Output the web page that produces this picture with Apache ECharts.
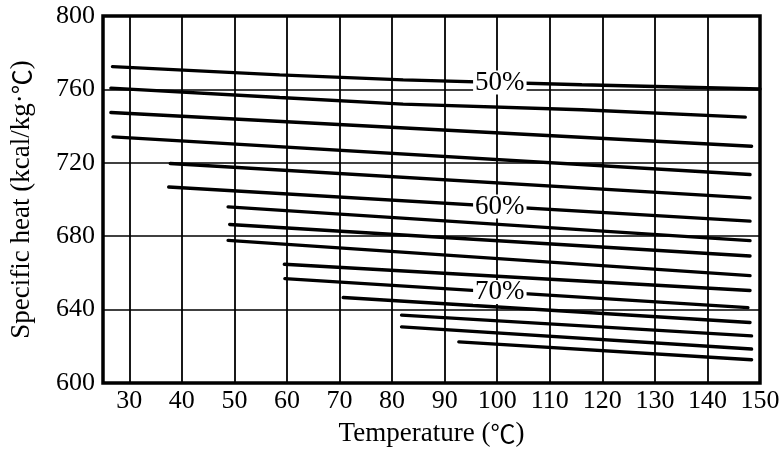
<!DOCTYPE html>
<html>
<head>
<meta charset="utf-8">
<script src="https://cdn.jsdelivr.net/npm/echarts@6/dist/echarts.min.js"></script>
<style>html,body{margin:0;padding:0;background:#fff}#c{width:783px;height:452px}</style>
</head>
<body>
<div id="c"></div>
<script>
// Tick labels
const xTicks = [30, 40, 50, 60, 70, 80, 90, 100, 110, 120, 130, 140, 150];
const yTicks = [600, 640, 680, 720, 760, 800];

// Curves (x = temperature, y = specific heat)
const c50 = [[26.8, 772.4], [58.6, 767.9], [82.1, 765.2], [116.1, 762.5], [150, 760.2]];
const c52 = [[26.5, 760.7], [58.6, 755.6], [82.1, 752.0], [116.1, 748.9], [147.2, 744.9]];
const c54 = [[26.5, 747.4], [148.4, 729.0]];
const c56 = [[26.9, 734.1], [148.1, 713.6]];
const c58 = [[37.8, 719.6], [148.1, 700.9]];
const c60 = [[37.5, 706.8], [148.1, 688.2]];
const c62 = [[48.8, 696.0], [148.1, 677.6]];
const c64 = [[49.1, 686.4], [148.1, 669.2]];
const c66 = [[48.8, 677.7], [148.1, 658.5]];
const c68 = [[59.5, 664.7], [148.1, 650.4]];
const c70 = [[59.6, 656.9], [147.7, 641.1]];
const c72 = [[70.7, 646.6], [148.1, 633.0]];
const c74 = [[81.8, 637.0], [148.4, 625.7]];
const c76 = [[81.8, 630.6], [148.4, 618.5]];
const c78 = [[92.7, 622.4], [148.4, 612.7]];

const curves = [c50, c52, c54, c56, c58, c60, c62, c64, c66, c68, c70, c72, c74, c76, c78];

// Curve labels
const labelTexts = ['50%', '60%', '70%'];
const labelCurves = [c50, c60, c70];
const labelX = 100.5;

function yAt(curve, x) {
  for (let i = 0; i < curve.length - 1; i++) {
    const a = curve[i], b = curve[i + 1];
    if (x >= a[0] && x <= b[0]) return a[1] + (b[1] - a[1]) * (x - a[0]) / (b[0] - a[0]);
  }
  return curve[curve.length - 1][1];
}

const FONT = "'Liberation Serif', 'DejaVu Serif', serif";
const CJK = "'Noto Sans CJK JP', 'Noto Sans CJK SC', sans-serif";

const series = curves.map(d => ({
  type: 'line', data: d, showSymbol: false, symbol: 'none', silent: true,
  lineStyle: { color: '#000', width: 3.4, cap: 'round' }, z: 3
}));

series.push({
  type: 'scatter', symbolSize: 0, z: 10, silent: true,
  itemStyle: { opacity: 1 },
  data: labelTexts.map((t, i) => ({ value: [labelX, yAt(labelCurves[i], labelX)], name: t })),
  label: {
    show: true, position: 'inside', formatter: p => p.name, opacity: 1,
    fontFamily: FONT, fontSize: 27, color: '#000',
    backgroundColor: '#fff', padding: [0, 2, 0, 2], lineHeight: 24
  }
});

const chart = echarts.init(document.getElementById('c'), null, { renderer: 'canvas' });
chart.setOption({
  animation: false,
  backgroundColor: '#fff',
  grid: { left: 97, right: 23, top: 16, bottom: 68, show: true, borderColor: '#000', borderWidth: 3.5, backgroundColor: 'transparent' },
  xAxis: {
    type: 'value', min: 25, max: 150,
    name: 'Temperature ({c|℃})', nameLocation: 'middle', nameGap: 37,
    nameTextStyle: { fontFamily: FONT, fontSize: 27, color: '#000',
      rich: { c: { fontFamily: CJK, fontSize: 25, color: '#000' } } },
    axisLine: { show: false },
    axisTick: { show: false, customValues: xTicks },
    axisLabel: { customValues: xTicks, fontFamily: FONT, fontSize: 26, color: '#000', margin: 5 },
    splitLine: { show: true, lineStyle: { color: '#000', width: 1.8 } }
  },
  yAxis: {
    type: 'value', min: 600, max: 800, interval: 40,
    name: 'Specific heat (kcal/kg·{c|℃})', nameLocation: 'middle', nameGap: 68,
    nameTextStyle: { fontFamily: FONT, fontSize: 27, color: '#000',
      rich: { c: { fontFamily: CJK, fontSize: 25, color: '#000' } } },
    axisLine: { show: false },
    axisTick: { show: false },
    axisLabel: { fontFamily: FONT, fontSize: 26, color: '#000', margin: 8, formatter: v => yTicks.includes(v) ? String(v) : '' },
    splitLine: { show: true, lineStyle: { color: '#000', width: 1.5 } }
  },
  series: series
});
</script>
</body>
</html>
